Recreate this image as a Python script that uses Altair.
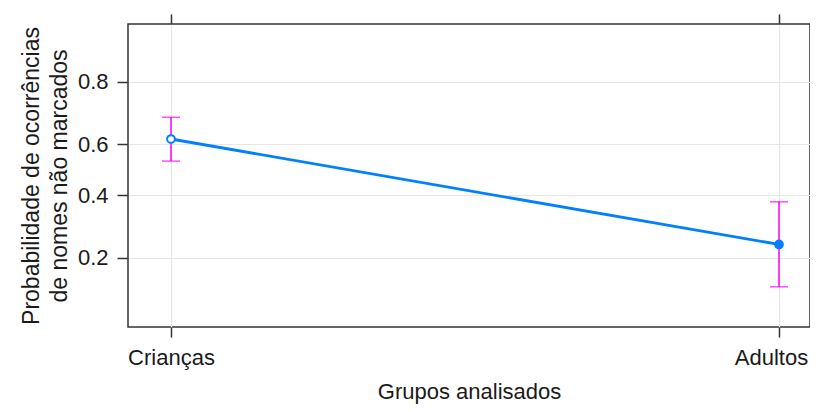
import math
import altair as alt
import pandas as pd

# ---- data ----
grupos = ["Crianças", "Adultos"]
prob = [0.619, 0.235]
lower = [0.534, 0.136]
upper = [0.696, 0.376]
y_ticks = [0.2, 0.4, 0.6, 0.8]
y_limits = [0.077, 0.909]
x_limits = [-0.0707, 1.051]

y_title = ["Probabilidade de ocorrências", "de nomes não marcados"]
x_title = "Grupos analisados"

df = pd.DataFrame({"grupo": grupos, "p": prob, "lo": lower, "hi": upper})
df["idx"] = range(len(grupos))


def logit(v):
    return math.log(v / (1 - v))


FONT = "Liberation Sans"
BLUE = "#0080ff"
MAGENTA = "#ff00ff"
DARK = "#333333"

base = alt.Chart(df).transform_calculate(
    lp="log(datum.p/(1-datum.p))",
    llo="log(datum.lo/(1-datum.lo))",
    lhi="log(datum.hi/(1-datum.hi))",
)

names_js = "[" + ",".join("'" + g + "'" for g in grupos) + "]"
xscale = alt.Scale(domain=x_limits, nice=False, zero=False)
yscale = alt.Scale(domain=[logit(y_limits[0]), logit(y_limits[1])], nice=False, zero=False)

yaxis = alt.Axis(
    values=[logit(t) for t in y_ticks],
    labelExpr="format(1/(1+exp(-datum.value)), '.1f')",
    title=y_title,
    grid=True,
    gridColor="#e6e6e6",
    gridWidth=1.2,
    domain=False,
    tickColor=DARK,
    tickWidth=1.5,
    tickSize=11,
    labelPadding=9,
    labelFont=FONT,
    labelFontSize=22,
    labelColor="#1a1a1a",
    titleFont=FONT,
    titleFontSize=23,
    titleFontWeight="normal",
    titleColor="#1a1a1a",
    titlePadding=6,
    titleLineHeight=28,
)

xaxis_bottom = alt.Axis(
    title=x_title,
    values=list(range(len(grupos))),
    labelExpr=names_js + "[datum.value]",
    labelOffset={"condition": {"test": "datum.value == 1", "value": -8}, "value": 0},
    grid=True,
    gridColor="#e6e6e6",
    gridWidth=1.2,
    domain=False,
    tickColor=DARK,
    tickWidth=1.5,
    tickSize=10,
    labelPadding=10,
    labelAngle=0,
    labelFont=FONT,
    labelFontSize=22,
    labelColor="#1a1a1a",
    labelFlush=False,
    labelOverlap=False,
    titleFont=FONT,
    titleFontSize=22,
    titleFontWeight="normal",
    titleColor="#1a1a1a",
    titleBaseline="alphabetic",
    titleY=71,
)

xaxis_top = alt.Axis(
    orient="top",
    values=list(range(len(grupos))),
    title=None,
    labels=False,
    grid=False,
    domain=False,
    tickColor=DARK,
    tickWidth=1.5,
    tickSize=10,
)

rules = base.mark_rule(color=MAGENTA, strokeWidth=1.5).encode(
    x=alt.X("idx:Q", scale=xscale, axis=xaxis_top),
    y=alt.Y("llo:Q", scale=yscale, axis=yaxis),
    y2="lhi:Q",
)

caps_lo = base.mark_tick(color=MAGENTA, thickness=1.5, size=18, orient="horizontal").encode(
    x=alt.X("idx:Q", scale=xscale, axis=None),
    y=alt.Y("llo:Q", scale=yscale),
)
caps_hi = base.mark_tick(color=MAGENTA, thickness=1.5, size=18, orient="horizontal").encode(
    x=alt.X("idx:Q", scale=xscale, axis=None),
    y=alt.Y("lhi:Q", scale=yscale),
)

line = base.mark_line(color=BLUE, strokeWidth=2.8).encode(
    x=alt.X("idx:Q", scale=xscale, axis=xaxis_bottom),
    y=alt.Y("lp:Q", scale=yscale, axis=yaxis),
)

points = base.mark_point(shape="circle", size=60, strokeWidth=2, opacity=1, color=BLUE).encode(
    x=alt.X("idx:Q", scale=xscale, axis=None),
    y=alt.Y("lp:Q", scale=yscale),
    fill=alt.condition(alt.datum.grupo == grupos[0], alt.value("white"), alt.value(BLUE)),
)

chart = (
    alt.layer(line, rules, caps_lo, caps_hi, points)
    .resolve_axis(x="independent")
    .properties(
        width=682,
        height=303,
        autosize=alt.AutoSizeParams(type="none"),
        padding={"left": 120, "top": 16, "right": 0, "bottom": 77},
        background="white",
    )
    .configure_view(stroke=DARK, strokeWidth=1.5)
)

chart.save("out.html", embed_options={"renderer": "svg", "actions": False})
